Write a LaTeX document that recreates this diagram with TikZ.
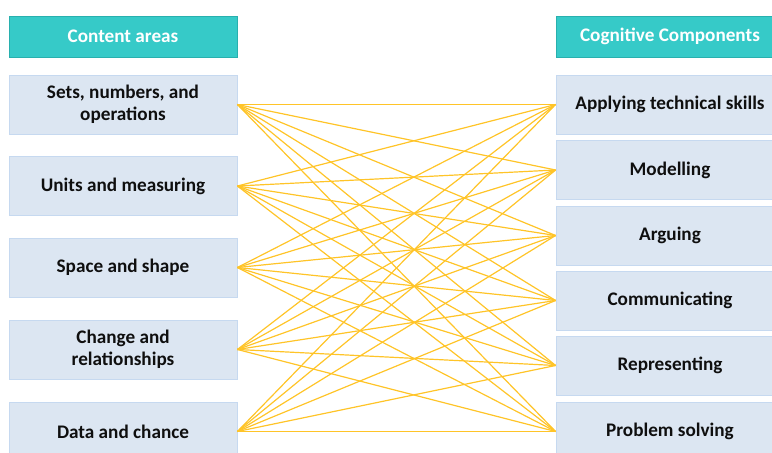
\documentclass[tikz,border=0pt]{standalone}
\usepackage{fontspec}
\setmainfont{Carlito}
\definecolor{hdr}{RGB}{54,202,200}
\definecolor{hdrline}{RGB}{40,176,174}
\definecolor{boxfill}{RGB}{220,230,242}
\definecolor{boxline}{RGB}{198,217,240}
\definecolor{link}{RGB}{255,196,40}
\definecolor{txt}{RGB}{15,15,15}
\begin{document}
\begin{tikzpicture}[x=1pt,y=1pt,
  header/.style={draw=hdrline, line width=0.8pt, fill=hdr, minimum width=228pt, minimum height=41pt, inner sep=0pt, text=white, font=\fontsize{19.2}{22}\selectfont\bfseries},
  item/.style={draw=boxline, line width=0.8pt, fill=boxfill, minimum width=228pt, minimum height=59pt, inner sep=0pt, text=txt, align=center, font=\fontsize{19.2}{22}\selectfont\bfseries},
  link/.style={draw=link, line width=1.2pt}
]
\useasboundingbox (0,0) rectangle (772,453);
\clip (0,0) rectangle (772,453);
% headers
\node[header] (hl) at (123,416.5) {Content areas};
\node[header] (hr) at (670,416.5) {Cognitive Components};
% left items
\node[item] (l1) at (123,348.5) {Sets, numbers, and\\operations};
\node[item] (l2) at (123,267) {Units and measuring};
\node[item] (l3) at (123,185.5) {Space and shape};
\node[item] (l4) at (123,103.5) {Change and\\relationships};
\node[item] (l5) at (123,21.5) {Data and chance};
% right items
\node[item] (r1) at (670,348.5) {Applying technical skills};
\node[item] (r2) at (670,283) {Modelling};
\node[item] (r3) at (670,217.5) {Arguing};
\node[item] (r4) at (670,152.5) {Communicating};
\node[item] (r5) at (670,87.5) {Representing};
\node[item] (r6) at (670,21.5) {Problem solving};
% links
\foreach \a in {1,...,5}{
  \foreach \b in {1,...,6}{
    \draw[link] (l\a.east) -- (r\b.west);
  }
}
\end{tikzpicture}
\end{document}
